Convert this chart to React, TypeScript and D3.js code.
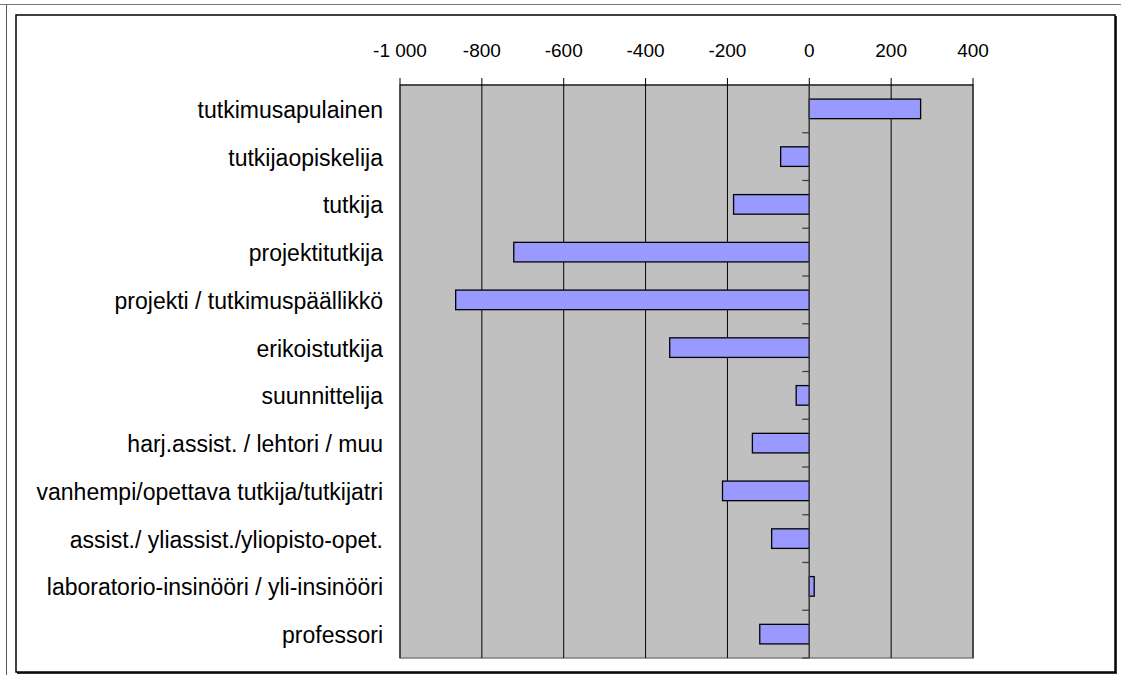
import React from "react";
import * as d3 from "d3";

const categories = [
  "tutkimusapulainen",
  "tutkijaopiskelija",
  "tutkija",
  "projektitutkija",
  "projekti / tutkimuspäällikkö",
  "erikoistutkija",
  "suunnittelija",
  "harj.assist. / lehtori / muu",
  "vanhempi/opettava tutkija/tutkijatri",
  "assist./ yliassist./yliopisto-opet.",
  "laboratorio-insinööri / yli-insinööri",
  "professori",
];
const values = [272, -70, -185, -722, -864, -341, -32, -139, -212, -92, 12, -121];
const xTicks = [-1000, -800, -600, -400, -200, 0, 200, 400];

const W = 1121;
const H = 675;
const left = 400;
const right = 973;
const top = 85;
const bottom = 658;

const fmt = (v: number) => {
  const s = Math.abs(v).toString();
  const withSpace = s.length > 3 ? s.slice(0, s.length - 3) + "\u00a0" + s.slice(-3) : s;
  return (v < 0 ? "-" : "") + withSpace;
};

export default function App() {
  const x = d3.scaleLinear().domain([-1000, 400]).range([left, right]);
  const y = d3.scaleBand<string>().domain(categories).range([top, bottom]).paddingInner(0.59).paddingOuter(0.295);
  const band = (bottom - top) / categories.length;
  const font = "Liberation Sans, Arial, sans-serif";
  return (
    <svg width={W} height={H} style={{ position: "absolute", left: 0, top: 0 }}>
      <rect x={0} y={0} width={W} height={H} fill="#fff" />
      {/* outer page lines */}
      <line x1={0} x2={W} y1={4.5} y2={4.5} stroke="#777" strokeWidth={1} />
      <line x1={6.5} x2={6.5} y1={4.5} y2={H} stroke="#555" strokeWidth={1} />
      {/* chart frame with shadow */}
      <rect x={17} y={16} width={1100} height={658} fill="#333" />
      <rect x={16} y={15} width={1099} height={657} fill="#fff" stroke="#000" strokeWidth={1.5} />
      {/* plot area */}
      <rect x={left} y={top} width={right - left} height={bottom - top} fill="#c0c0c0" stroke="#808080" strokeWidth={1.5} />
      {xTicks.map((t) => (
        <line key={"g" + t} x1={x(t)} x2={x(t)} y1={top} y2={bottom} stroke="#000" strokeWidth={1} />
      ))}
      {/* top axis */}
      <line x1={left} x2={right} y1={top} y2={top} stroke="#000" strokeWidth={1} />
      {xTicks.map((t) => (
        <g key={"t" + t}>
          <line x1={x(t)} x2={x(t)} y1={top - 7} y2={top} stroke="#000" strokeWidth={1} />
          <text x={x(t)} y={57} textAnchor="middle" fontFamily={font} fontSize={19} fill="#000">
            {fmt(t)}
          </text>
        </g>
      ))}
      {/* bars */}
      {categories.map((c, i) => {
        const v = values[i];
        const x0 = x(Math.min(0, v));
        const x1 = x(Math.max(0, v));
        return (
          <rect
            key={c}
            x={x0}
            y={y(c)!}
            width={x1 - x0}
            height={y.bandwidth()}
            fill="#9999ff"
            stroke="#000"
            strokeWidth={1.3}
          />
        );
      })}
      {/* zero category axis */}
      <line x1={x(0)} x2={x(0)} y1={top} y2={bottom} stroke="#404040" strokeWidth={1.3} />
      {d3.range(categories.length + 1).map((i) => (
        <line
          key={"ct" + i}
          x1={x(0) - 7}
          x2={x(0)}
          y1={top + i * band}
          y2={top + i * band}
          stroke="#404040"
          strokeWidth={1.3}
        />
      ))}
      {/* category labels */}
      {categories.map((c) => (
        <text
          key={"l" + c}
          x={383}
          y={y(c)! + y.bandwidth() / 2 + 9}
          textAnchor="end"
          fontFamily={font}
          fontSize={23}
          fill="#000"
        >
          {c}
        </text>
      ))}
    </svg>
  );
}
